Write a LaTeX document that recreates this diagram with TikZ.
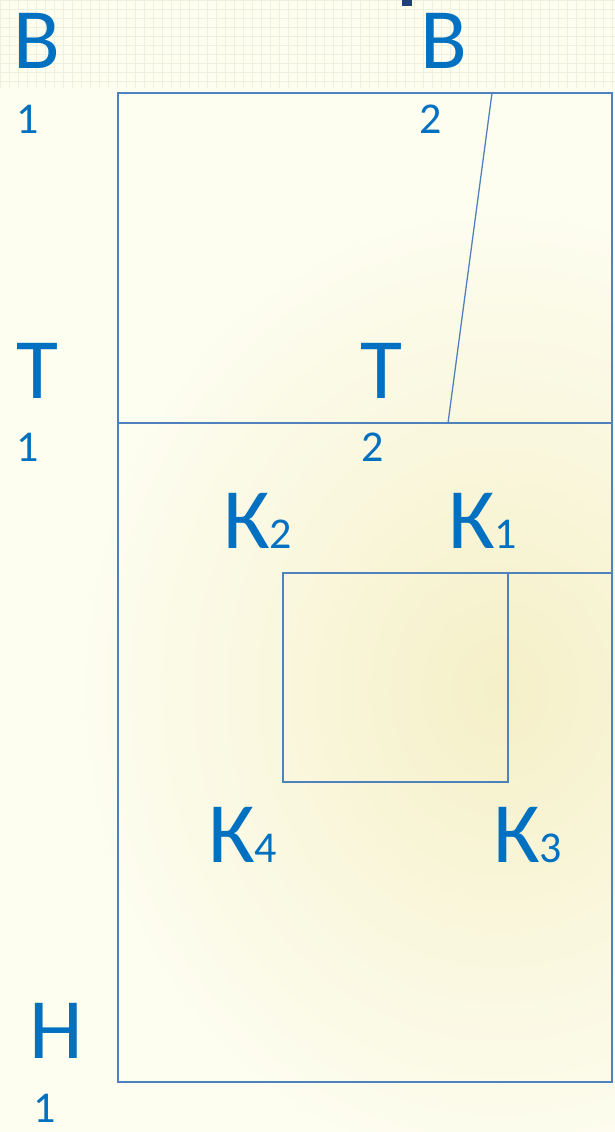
\documentclass[tikz,border=0pt]{standalone}
\usepackage{fontspec}
\setmainfont{Carlito}
\usepackage{xcolor}
\usetikzlibrary{positioning,calc}

\definecolor{labelblue}{RGB}{0,112,192}
\definecolor{lineblue}{RGB}{79,129,189}
\definecolor{bgcream}{RGB}{253,253,240}
\definecolor{bgyellow}{RGB}{245,240,200}
\definecolor{gridcol}{RGB}{238,240,222}
\definecolor{titlenavy}{RGB}{31,63,127}

\begin{document}
\begin{tikzpicture}[x=1pt, y=-1pt,
        letter/.style={text=labelblue, inner sep=0pt, anchor=base west, font=\fontsize{86}{86}\selectfont},
        index/.style={text=labelblue, inner sep=0pt, anchor=base west, font=\fontsize{44}{44}\selectfont},
        wall/.style={draw=lineblue, line width=1.3pt}]

        % Background
        \useasboundingbox (0,0) rectangle (615,1132);
        \fill[bgcream] (0,0) rectangle (615,1132);
        \shade[inner color=bgyellow, outer color=bgcream] (500,690) ellipse (420 and 480);
        \fill[bgcream] (0,0) rectangle (615,90);
        \draw[gridcol, line width=0.7pt, step=9pt] (0,0) grid (615,88);
        \fill[titlenavy] (402,0) rectangle (412,6);

        % Corners of the plan
        \coordinate (tl) at (118,93);
        \coordinate (tr) at (612,93);
        \coordinate (ml) at (118,423);
        \coordinate (mr) at (612,423);
        \coordinate (bl) at (118,1082);
        \coordinate (br) at (612,1082);
        \coordinate (s1) at (492,93);
        \coordinate (s2) at (448,423);
        \coordinate (k2) at (283,573);
        \coordinate (k1) at (508,573);
        \coordinate (kr) at (612,573);
        \coordinate (k4) at (283,782);
        \coordinate (k3) at (508,782);

        % Walls
        \draw[wall] (tl) -- (tr) -- (br) -- (bl) -- cycle;
        \draw[wall] (ml) -- (mr);
        \draw[wall] (s1) -- (s2);
        \draw[wall] (kr) -- (k2) -- (k4) -- (k3) -- (k1);

        % Left Column
        \node[letter] (b1) at (13,68) {В};
        \node[index] (b1i) at (16,133) {1};
        \node[letter] (t1) at (16,398) {Т};
        \node[index] (t1i) at (16,461) {1};
        \node[letter] (n1) at (29,1058) {Н};
        \node[index] (n1i) at (33,1122) {1};

        % Upper Room
        \node[letter] (b2) at (420,68) {В};
        \node[index] (b2i) at (419,133) {2};
        \node[letter] (t2) at (360,398) {Т};
        \node[index] (t2i) at (361,461) {2};

        % Square
        \node[letter] (kk2) at (223,548) {К\fontsize{44}{44}\selectfont 2};
        \node[letter] (kk1) at (448,548) {К\fontsize{44}{44}\selectfont 1};
        \node[letter] (kk4) at (208,862) {К\fontsize{44}{44}\selectfont 4};
        \node[letter] (kk3) at (493,862) {К\fontsize{44}{44}\selectfont 3};
\end{tikzpicture}
\end{document}
